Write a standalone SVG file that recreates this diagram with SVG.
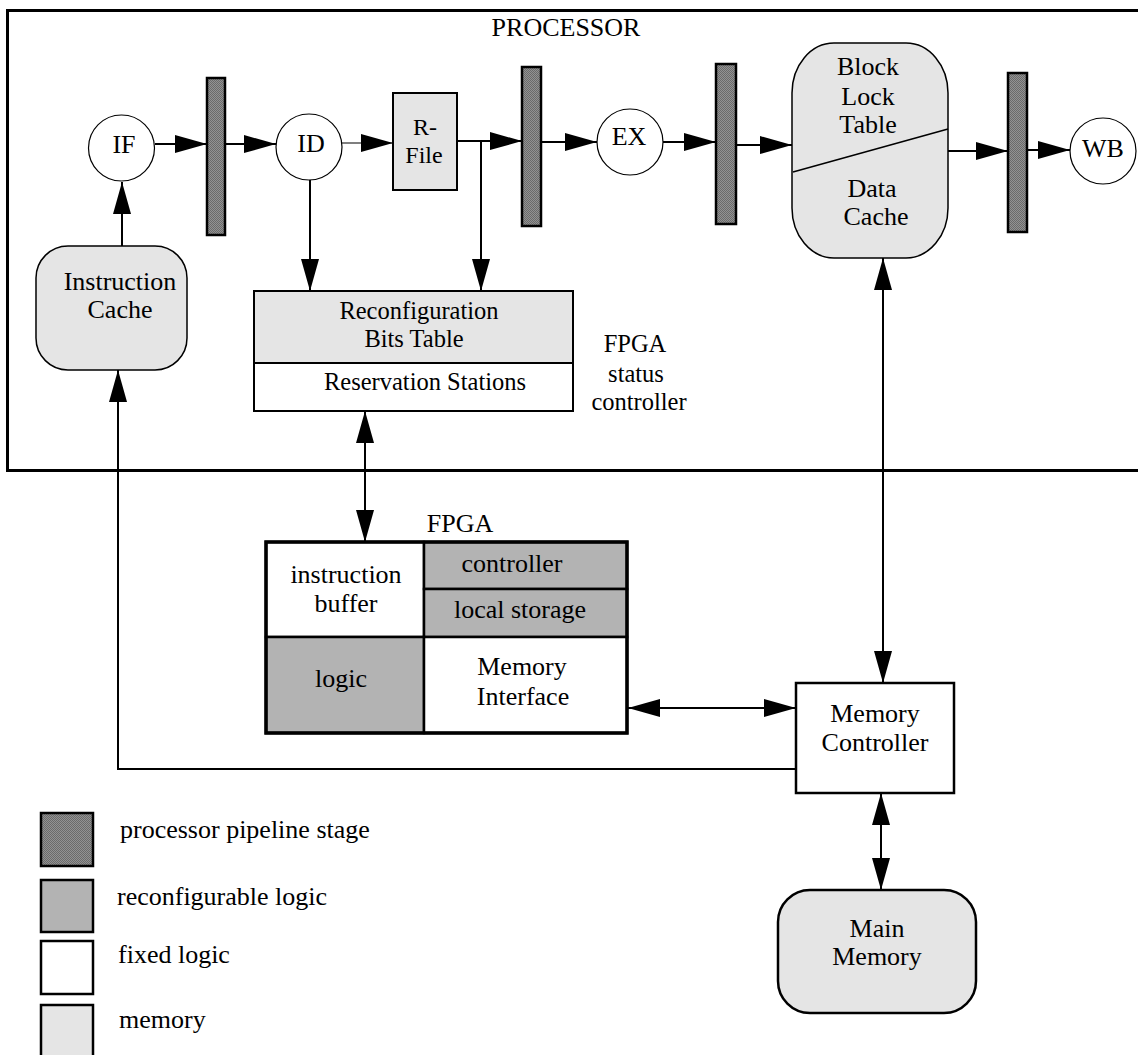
<svg xmlns="http://www.w3.org/2000/svg" width="1138" height="1055" viewBox="0 0 1138 1055">
<style>
text{font-family:"Liberation Serif","Times New Roman",serif;font-size:26px;fill:#000;text-anchor:middle}
.lt{text-anchor:start}
.sm{font-size:24.5px}
.rf{font-size:24px}
.stage{fill:url(#stip);stroke:#000;stroke-width:2.5}
.mem{fill:#e5e5e5;stroke:#000;stroke-width:1.5}
.fix{fill:#fff;stroke:#000;stroke-width:2.5}
.rec{fill:#b3b3b3;stroke:#000;stroke-width:2.5}
.circ{fill:#fff;stroke:#000;stroke-width:1.2}
.c{fill:none;stroke:#000;stroke-width:2}
.a{marker-end:url(#ah)}
.d{marker-start:url(#ah);marker-end:url(#ah)}
</style>
<defs>
<pattern id="stip" width="2" height="2" patternUnits="userSpaceOnUse">
<rect width="2" height="2" fill="#929292"/>
<rect width="1" height="1" fill="#6a6a6a"/>
<rect x="1" y="1" width="1" height="1" fill="#6a6a6a"/>
</pattern>
<marker id="ah" markerUnits="userSpaceOnUse" markerWidth="32" markerHeight="18" refX="32" refY="9" orient="auto-start-reverse" viewBox="0 0 32 18">
<path d="M0,0 L32,9 L0,18 z" fill="#000"/>
</marker>
</defs>

<g id="processor">
<rect x="7.5" y="10.5" width="1140" height="460" fill="none" stroke="#000" stroke-width="3"/>
<text x="566" y="36">PROCESSOR</text>
</g>

<g id="connectors">
<line class="c a" x1="155" y1="144" x2="207" y2="144"/>
<line class="c a" x1="225" y1="144" x2="276" y2="144"/>
<line class="c a" x1="342" y1="143" x2="393" y2="143" style="stroke-width:1.2"/>
<line class="c a" x1="457" y1="141" x2="522" y2="141"/>
<line class="c a" x1="481" y1="141" x2="481" y2="291"/>
<line class="c a" x1="310" y1="180" x2="310" y2="291"/>
<line class="c a" x1="541" y1="142" x2="597" y2="142"/>
<line class="c a" x1="663" y1="142" x2="716" y2="142"/>
<line class="c a" x1="736" y1="145" x2="792" y2="145"/>
<line class="c a" x1="948" y1="151" x2="1008" y2="151"/>
<line class="c a" x1="1027" y1="150" x2="1070" y2="150"/>
<line class="c a" x1="122" y1="246" x2="122" y2="182"/>
<polyline class="c a" points="796,769 118,769 118,370"/>
<line class="c d" x1="365" y1="411" x2="365" y2="542"/>
<line class="c d" x1="883" y1="258" x2="883" y2="683"/>
<line class="c d" x1="628" y1="708" x2="796" y2="708"/>
<line class="c d" x1="881" y1="793" x2="881" y2="890"/>
</g>

<g id="IF"><circle class="circ" cx="121.5" cy="148" r="33"/><text x="124" y="153">IF</text></g>
<g id="bar1"><rect class="stage" x="207" y="78" width="18" height="157"/></g>
<g id="ID"><circle class="circ" cx="309" cy="147" r="33"/><text x="311" y="152">ID</text></g>
<g id="RFile"><rect class="mem" x="393" y="93" width="64" height="97" style="stroke-width:2"/><text class="rf" x="425" y="135">R-</text><text class="rf" x="424" y="163">File</text></g>
<g id="bar2"><rect class="stage" x="522" y="67" width="19" height="159"/></g>
<g id="EX"><circle class="circ" cx="630" cy="142" r="33"/><text x="629" y="145">EX</text></g>
<g id="bar3"><rect class="stage" x="716" y="64" width="20" height="160"/></g>
<g id="BLT">
<rect class="mem" x="792" y="43" width="156" height="215" rx="42" ry="50"/>
<line x1="793" y1="172" x2="948" y2="129" stroke="#000" stroke-width="1.5"/>
<text x="868" y="75">Block</text><text x="868" y="105">Lock</text><text x="868" y="133">Table</text>
<text x="872" y="197">Data</text><text x="876" y="225">Cache</text>
</g>
<g id="bar4"><rect class="stage" x="1008" y="73" width="19" height="159"/></g>
<g id="WB"><circle class="circ" cx="1103" cy="151" r="33"/><text x="1103" y="157">WB</text></g>

<g id="icache"><rect class="mem" x="36" y="246" width="151" height="124" rx="32" ry="32"/><text x="120" y="290">Instruction</text><text x="120" y="318">Cache</text></g>

<g id="rbt">
<rect x="254" y="291" width="319" height="72" fill="#e5e5e5" stroke="#000" stroke-width="2"/>
<rect x="254" y="363" width="319" height="48" fill="#fff" stroke="#000" stroke-width="2"/>
<text class="sm" x="419" y="319">Reconfiguration</text><text class="sm" x="414" y="347">Bits Table</text>
<text class="sm" x="425" y="390">Reservation Stations</text>
</g>
<g id="fsc"><text class="sm" x="635" y="352">FPGA</text><text class="sm" x="636" y="382">status</text><text class="sm" x="639" y="410">controller</text></g>

<g id="fpga">
<text x="460" y="532">FPGA</text>
<rect class="fix" x="266" y="542" width="158" height="95"/>
<rect class="rec" x="424" y="542" width="203" height="47"/>
<rect class="rec" x="424" y="589" width="203" height="48"/>
<rect class="rec" x="266" y="637" width="158" height="96"/>
<rect class="fix" x="424" y="637" width="203" height="96"/>
<rect x="266" y="542" width="361" height="191" fill="none" stroke="#000" stroke-width="3.5"/>
<text x="346" y="583">instruction</text><text x="346" y="612">buffer</text>
<text x="512" y="572">controller</text><text x="520" y="618">local storage</text>
<text x="341" y="687">logic</text>
<text x="522" y="675">Memory</text><text x="523" y="705">Interface</text>
</g>

<g id="memctrl"><rect class="fix" x="796" y="683" width="158" height="110"/><text x="875" y="722">Memory</text><text x="875" y="751">Controller</text></g>
<g id="mainmem"><rect class="mem" x="778" y="890" width="198" height="123" rx="32" ry="32" style="stroke-width:2.5"/><text x="877" y="937">Main</text><text x="877" y="965">Memory</text></g>

<g id="legend">
<rect class="stage" x="41" y="813" width="52" height="53"/>
<rect class="rec" x="41" y="880" width="52" height="52"/>
<rect class="fix" x="41" y="941" width="52" height="53"/>
<rect class="mem" x="41" y="1005" width="52" height="60" style="stroke-width:2.5"/>
<text class="lt" x="120" y="838">processor pipeline stage</text>
<text class="lt" x="117" y="905">reconfigurable logic</text>
<text class="lt" x="118" y="963">fixed logic</text>
<text class="lt" x="119" y="1028">memory</text>
</g>
</svg>
